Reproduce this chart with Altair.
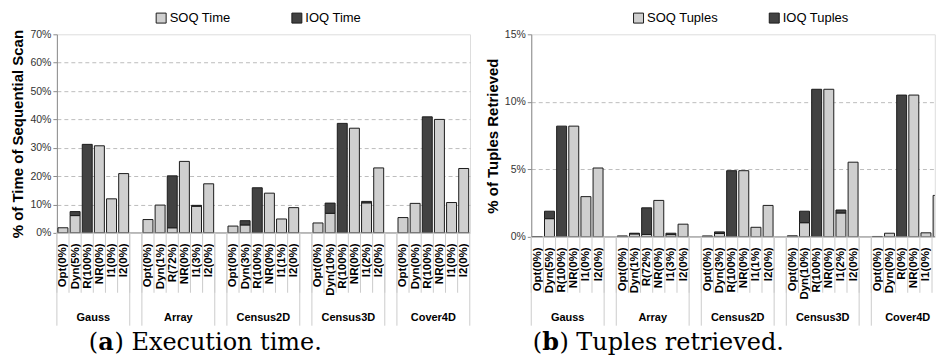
import json
import altair as alt
import pandas as pd

groups = ["Gauss", "Array", "Census2D", "Census3D", "Cover4D"]

time_labels = [
    "Opt(0%)", "Dyn(5%)", "R(100%)", "NR(0%)", "I1(0%)", "I2(0%)",
    "Opt(0%)", "Dyn(1%)", "R(72%)", "NR(0%)", "I1(3%)", "I2(0%)",
    "Opt(0%)", "Dyn(3%)", "R(100%)", "NR(0%)", "I1(1%)", "I2(0%)",
    "Opt(0%)", "Dyn(10%)", "R(100%)", "NR(0%)", "I1(2%)", "I2(0%)",
    "Opt(0%)", "Dyn(0%)", "R(100%)", "NR(0%)", "I1(0%)", "I2(0%)",
]
tuple_labels = [
    "Opt(0%)", "Dyn(5%)", "R(100%)", "NR(0%)", "I1(0%)", "I2(0%)",
    "Opt(0%)", "Dyn(1%)", "R(72%)", "NR(0%)", "I1(3%)", "I2(0%)",
    "Opt(0%)", "Dyn(3%)", "R(100%)", "NR(0%)", "I1(1%)", "I2(0%)",
    "Opt(0%)", "Dyn(10%)", "R(100%)", "NR(0%)", "I1(2%)", "I2(0%)",
    "Opt(0%)", "Dyn(0%)", "R(0%)", "NR(0%)", "I1(0%)", "I2(0%)",
]

# % of time of sequential scan
time_soq = [1.8, 6.1, 0, 30.7, 12.0, 20.9,
            4.7, 9.8, 1.8, 25.2, 9.4, 17.3,
            2.4, 2.8, 0, 14.0, 4.9, 8.9,
            3.5, 6.9, 0, 36.9, 10.6, 22.9,
            5.4, 10.4, 0, 40.0, 10.7, 22.7]
time_ioq = [0, 1.4, 31.2, 0, 0, 0,
            0, 0, 18.3, 0, 0.3, 0,
            0, 1.5, 15.9, 0, 0, 0,
            0, 3.6, 38.6, 0, 0.5, 0,
            0, 0, 40.9, 0, 0, 0]

# % of tuples retrieved
tuples_soq = [0.02, 1.35, 0, 8.2, 2.98, 5.1,
              0.07, 0.22, 0.18, 2.7, 0.17, 0.94,
              0.07, 0.25, 0, 4.9, 0.71, 2.33,
              0.08, 1.05, 0, 10.93, 1.77, 5.53,
              0.03, 0.27, 0, 10.5, 0.3, 3.07]
tuples_ioq = [0, 0.55, 8.2, 0, 0, 0,
              0, 0.05, 1.97, 0, 0.1, 0,
              0, 0.12, 4.9, 0, 0, 0,
              0, 0.85, 10.93, 0, 0.22, 0,
              0, 0, 10.5, 0, 0, 0]

FONT = "Liberation Sans"
SERIF = "DejaVu Serif"
LIGHT = "#cfcfcf"
DARK = "#424242"
EDGE = "#1c1c1c"
SEP = "#cccccc"
GRID = "#bdbdbd"
AXIS = "#8c8c8c"
SLOT_PX = 12.17  # pixel width of one category slot

one = pd.DataFrame({"d": [0]})


def panel(labels, soq, ioq, names, ytitle, ymax, ystep, width, height, top,
          legend_x, col_pad, cap_letter, cap_rest, cap_x, letter_w, end_rule):
    slot_labels = []
    long_slots = []
    for g in range(len(groups)):
        long_slots.append(len(slot_labels))
        slot_labels += labels[g * 6:(g + 1) * 6]
        if g < len(groups) - 1:
            long_slots.append(len(slot_labels))
            slot_labels.append("")
    n_slots = len(slot_labels)
    xmax = width / SLOT_PX          # visible part of the slot axis
    visible = [s for s in range(n_slots) if s + 0.9 <= xmax]

    rows = []
    for g in range(len(groups)):
        for i in range(6):
            k = g * 6 + i
            s = g * 7 + i
            if soq[k] > 0:
                rows.append({"slot": s, "series": names[0], "lo": 0, "hi": soq[k]})
            if ioq[k] > 0:
                rows.append({"slot": s, "series": names[1], "lo": soq[k], "hi": soq[k] + ioq[k]})
    bars_df = pd.DataFrame(rows)

    xs = alt.Scale(domain=[0, xmax], nice=False, zero=False)
    xaxis = alt.Axis(
        values=[s + 0.5 for s in visible],
        labelExpr=f"{json.dumps(slot_labels)}[floor(datum.value)]",
        labelAngle=270, labelFont=FONT, labelFontSize=11.5, labelFontWeight="bold",
        labelColor="#000", labelPadding=10, labelFlush=False, labelOverlap=False,
        ticks=False, domain=False, grid=False, title=None,
    )
    ys = alt.Scale(domain=[0, ymax], nice=False)
    yaxis = alt.Axis(
        values=list(range(0, ymax + 1, ystep)), labelExpr="datum.value + '%'",
        labelFont=FONT, labelFontSize=10.5, labelColor="#333", labelPadding=2,
        tickSize=4, tickColor=AXIS, domainColor=AXIS,
        title=ytitle, titleFont=FONT, titleFontSize=15, titleFontWeight="bold",
        titleColor="#000", titlePadding=4,
        grid=True, gridDash=[4, 3], gridColor=GRID,
        gridOpacity={"condition": {"test": f"datum.value == 0 || datum.value >= {ymax}", "value": 0}, "value": 1},
    )

    bars = alt.Chart(bars_df).transform_calculate(
        xa="datum.slot + 0.09", xb="datum.slot + 0.91"
    ).mark_bar(stroke=EDGE, strokeWidth=1, clip=True).encode(
        x=alt.X("xa:Q", scale=xs, axis=xaxis),
        x2="xb:Q",
        y=alt.Y("lo:Q", scale=ys, axis=yaxis),
        y2="hi:Q",
        color=alt.Color(
            "series:N",
            scale=alt.Scale(domain=names, range=[LIGHT, DARK]),
            legend=alt.Legend(
                orient="none", legendX=legend_x, legendY=-23, direction="horizontal",
                title=None, symbolType="square", symbolSize=100,
                symbolStrokeColor=EDGE, symbolStrokeWidth=1, labelFont=FONT,
                labelFontSize=13, labelColor="#000", columnPadding=col_pad,
                labelOffset=2, padding=0,
            ),
        ),
    )

    base_rule = alt.Chart(one).mark_rule(color=AXIS, strokeWidth=1).encode(
        x=alt.value(0), x2=alt.value(width), y=alt.value(height)
    )

    sep_df = pd.DataFrame({"slot": [s for s in range(n_slots) if s <= xmax]})
    short_sep = alt.Chart(sep_df).mark_rule(color=SEP, strokeWidth=1).encode(
        x=alt.X("slot:Q", scale=xs, axis=xaxis),
        y=alt.value(height), y2=alt.value(292 - top),
    )
    lk = long_slots + ([n_slots] if end_rule else [])
    long_df = pd.DataFrame({"slot": [s for s in lk if s <= xmax]})
    long_sep = alt.Chart(long_df).mark_rule(color=SEP, strokeWidth=1).encode(
        x=alt.X("slot:Q", scale=xs, axis=xaxis),
        y=alt.value(height), y2=alt.value(325 - top),
    )

    grp_df = pd.DataFrame({"slot": [g * 7 + 3 for g in range(len(groups))], "group": groups})
    grp_text = alt.Chart(grp_df).mark_text(
        font=FONT, fontSize=11, fontWeight="bold", color="#000", baseline="middle"
    ).encode(
        x=alt.X("slot:Q", scale=xs, axis=xaxis),
        y=alt.value(317 - top), text="group:N",
    )

    cy = 342 - top
    cap1 = alt.Chart(one).mark_text(font=SERIF, fontSize=24, align="left", baseline="middle", color="#000").encode(
        x=alt.value(cap_x), y=alt.value(cy), text=alt.value("("))
    cap2 = alt.Chart(one).mark_text(font=SERIF, fontSize=24, fontWeight="bold", align="left", baseline="middle", color="#000").encode(
        x=alt.value(cap_x + 9.4), y=alt.value(cy), text=alt.value(cap_letter))
    cap3 = alt.Chart(one).mark_text(font=SERIF, fontSize=24, align="left", baseline="middle", color="#000").encode(
        x=alt.value(cap_x + 9.4 + letter_w), y=alt.value(cy), text=alt.value(cap_rest))

    return alt.layer(bars, base_rule, short_sep, long_sep, grp_text, cap1, cap2, cap3).properties(
        width=width, height=height)


left = panel(time_labels, time_soq, time_ioq, ["SOQ Time", "IOQ Time"],
             "% of Time of Sequential Scan", 70, 10, 414, 199, 33,
             98, 59, "a", ") Execution time.", 32, 16.3, True)
right = panel(tuple_labels, tuples_soq, tuples_ioq, ["SOQ Tuples", "IOQ Tuples"],
              "% of Tuples Retrieved", 15, 5, 404.4, 203, 33,
              101, 48, "b", ") Tuples retrieved.", 1.6, 17.2, False)

chart = alt.hconcat(left, right, spacing=61.4, bounds="flush").resolve_scale(
    x="independent", y="independent", color="independent"
).resolve_legend(color="independent").properties(
    padding={"left": 10, "top": 10, "right": 0, "bottom": 0}
).configure_view(stroke="transparent").configure(font=FONT)

chart.save("out.html", embed_options={"renderer": "svg", "actions": False})
